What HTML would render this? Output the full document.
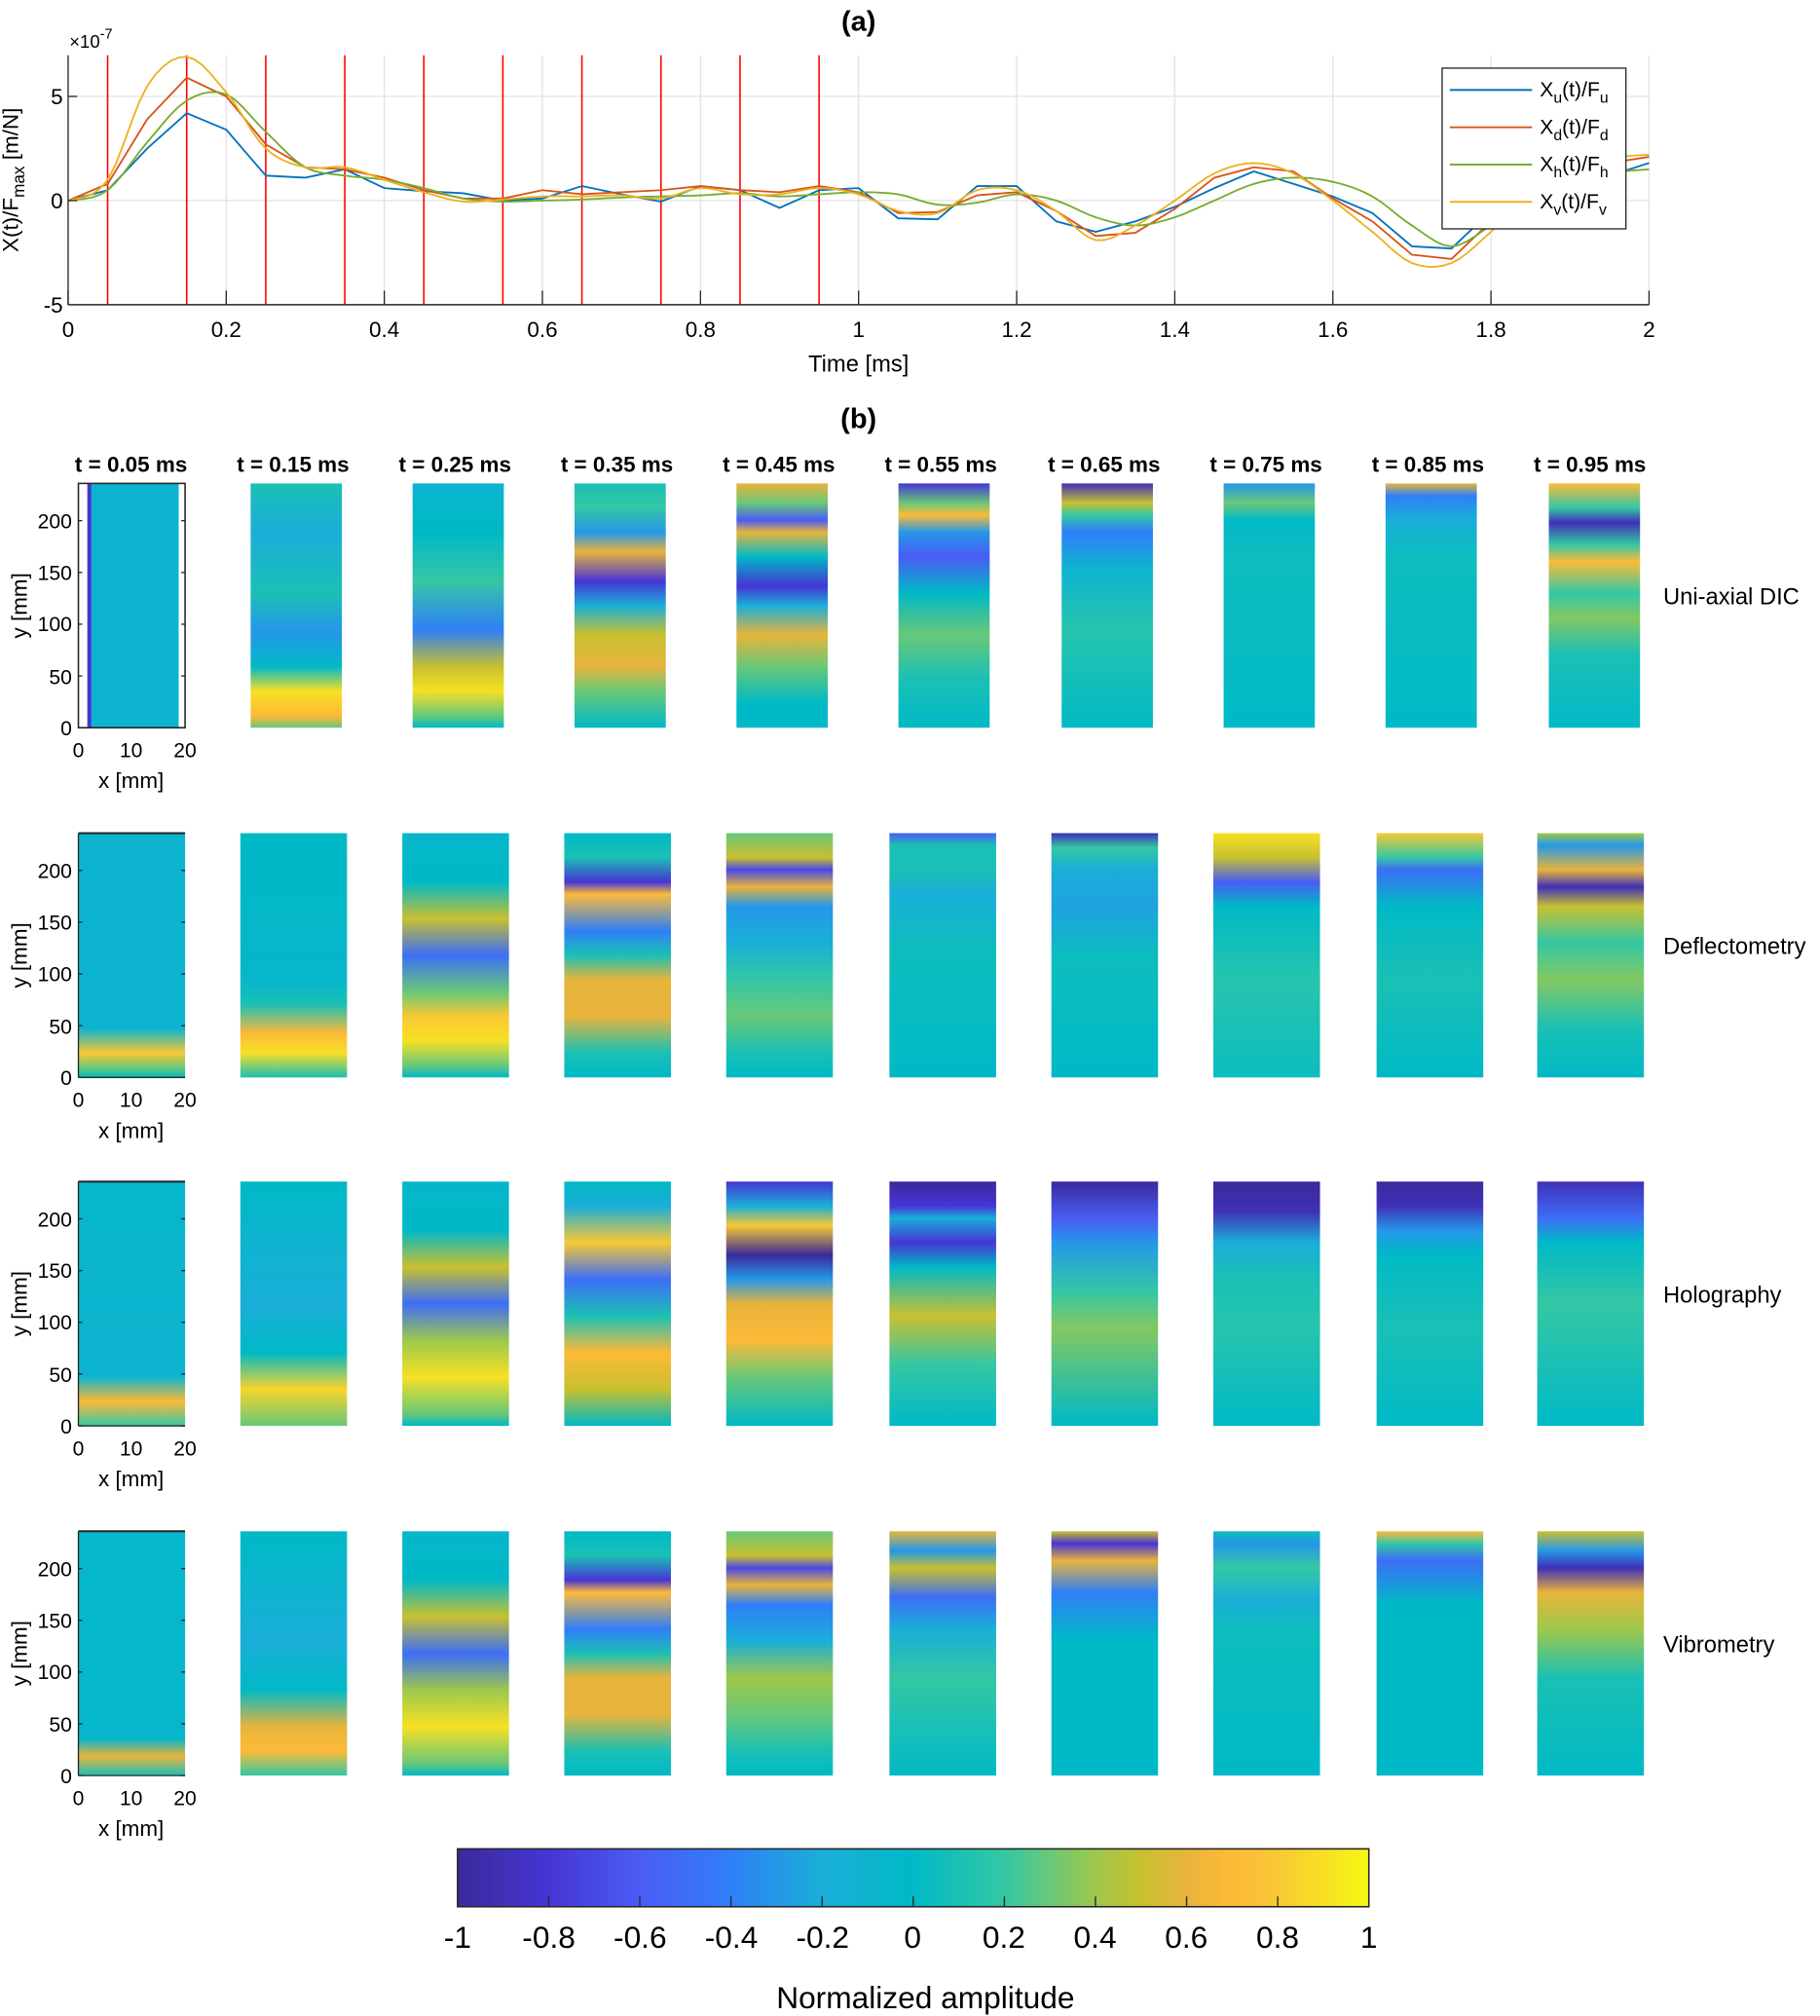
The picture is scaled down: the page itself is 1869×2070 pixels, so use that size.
<!DOCTYPE html>
<html><head><meta charset="utf-8">
<style>html,body{margin:0;padding:0;background:#fff}svg{display:block}text{font-family:"Liberation Sans",sans-serif}</style>
</head><body>
<svg id="s" width="1869" height="2070" viewBox="0 0 1416 1568" preserveAspectRatio="none" xmlns="http://www.w3.org/2000/svg">
<defs id="defs"></defs>
<rect width="1416" height="1568" fill="#fff"/>
<text x="668" y="24" font-size="22" font-weight="bold" text-anchor="middle">(a)</text>
<text x="54" y="37" font-size="14">×10<tspan dy="-7" font-size="11">-7</tspan></text>
<g id="tg"></g>
<g font-size="17" text-anchor="middle">
<text x="53" y="262">0</text><text x="176" y="262">0.2</text><text x="299" y="262">0.4</text><text x="422" y="262">0.6</text><text x="545" y="262">0.8</text><text x="668" y="262">1</text><text x="791" y="262">1.2</text><text x="914" y="262">1.4</text><text x="1037" y="262">1.6</text><text x="1160" y="262">1.8</text><text x="1283" y="262">2</text>
<text x="668" y="289" font-size="18">Time [ms]</text>
</g>
<g font-size="17" text-anchor="end"><text x="49" y="81">5</text><text x="49" y="162">0</text><text x="49" y="243">-5</text></g>
<text transform="translate(14,140) rotate(-90)" font-size="17" text-anchor="middle">X(t)/F<tspan dy="5" font-size="13">max</tspan><tspan dy="-5"> [m/N]</tspan></text>
<g id="leg">
<rect x="1122" y="53" width="143" height="125" fill="#fff" stroke="#262626" stroke-width="1"/>
<line x1="1128" y1="70" x2="1192" y2="70" stroke="#0072bd" stroke-width="1.5"/>
<line x1="1128" y1="99" x2="1192" y2="99" stroke="#d95319" stroke-width="1.5"/>
<line x1="1128" y1="128" x2="1192" y2="128" stroke="#77ac30" stroke-width="1.5"/>
<line x1="1128" y1="157" x2="1192" y2="157" stroke="#edb120" stroke-width="1.5"/>
<g font-size="16"><text x="1198" y="75">X<tspan dy="5" font-size="12">u</tspan><tspan dy="-5">(t)/F</tspan><tspan dy="5" font-size="12">u</tspan></text>
<text x="1198" y="104">X<tspan dy="5" font-size="12">d</tspan><tspan dy="-5">(t)/F</tspan><tspan dy="5" font-size="12">d</tspan></text>
<text x="1198" y="133">X<tspan dy="5" font-size="12">h</tspan><tspan dy="-5">(t)/F</tspan><tspan dy="5" font-size="12">h</tspan></text>
<text x="1198" y="162">X<tspan dy="5" font-size="12">v</tspan><tspan dy="-5">(t)/F</tspan><tspan dy="5" font-size="12">v</tspan></text></g>
</g>
<text x="668" y="333" font-size="22" font-weight="bold" text-anchor="middle">(b)</text>
<g font-size="17" font-weight="bold" text-anchor="middle">
<text x="102" y="367">t = 0.05 ms</text><text x="228" y="367">t = 0.15 ms</text><text x="354" y="367">t = 0.25 ms</text><text x="480" y="367">t = 0.35 ms</text><text x="606" y="367">t = 0.45 ms</text><text x="732" y="367">t = 0.55 ms</text><text x="859" y="367">t = 0.65 ms</text><text x="985" y="367">t = 0.75 ms</text><text x="1111" y="367">t = 0.85 ms</text><text x="1237" y="367">t = 0.95 ms</text>
</g>
<g font-size="18"><text x="1294" y="470">Uni-axial DIC</text><text x="1294" y="742">Deflectometry</text><text x="1294" y="1013">Holography</text><text x="1294" y="1285">Vibrometry</text></g>
<g id="maps"></g>
<g font-size="16" text-anchor="end">
<text x="56" y="572">0</text><text x="56" y="532">50</text><text x="56" y="491">100</text><text x="56" y="451">150</text><text x="56" y="411">200</text>
<text x="56" y="844">0</text><text x="56" y="804">50</text><text x="56" y="763">100</text><text x="56" y="723">150</text><text x="56" y="683">200</text>
<text x="56" y="1115">0</text><text x="56" y="1075">50</text><text x="56" y="1034">100</text><text x="56" y="994">150</text><text x="56" y="954">200</text>
<text x="56" y="1387">0</text><text x="56" y="1347">50</text><text x="56" y="1306">100</text><text x="56" y="1266">150</text><text x="56" y="1226">200</text>
</g>
<g font-size="16" text-anchor="middle">
<text x="61" y="589">0</text><text x="102" y="589">10</text><text x="144" y="589">20</text><text x="102" y="613" font-size="17">x [mm]</text>
<text x="61" y="861">0</text><text x="102" y="861">10</text><text x="144" y="861">20</text><text x="102" y="885" font-size="17">x [mm]</text>
<text x="61" y="1132">0</text><text x="102" y="1132">10</text><text x="144" y="1132">20</text><text x="102" y="1156" font-size="17">x [mm]</text>
<text x="61" y="1404">0</text><text x="102" y="1404">10</text><text x="144" y="1404">20</text><text x="102" y="1428" font-size="17">x [mm]</text>
<text transform="translate(21,471) rotate(-90)" font-size="17">y [mm]</text>
<text transform="translate(21,743) rotate(-90)" font-size="17">y [mm]</text>
<text transform="translate(21,1014) rotate(-90)" font-size="17">y [mm]</text>
<text transform="translate(21,1286) rotate(-90)" font-size="17">y [mm]</text>
</g>
<rect id="cbr" x="356" y="1438" width="709" height="45" fill="#0bb" stroke="#262626" stroke-width="1.2"/>
<g id="cbt"></g>
<g font-size="24" text-anchor="middle">
<text x="356" y="1515">-1</text><text x="427" y="1515">-0.8</text><text x="498" y="1515">-0.6</text><text x="569" y="1515">-0.4</text><text x="640" y="1515">-0.2</text><text x="710" y="1515">0</text><text x="781" y="1515">0.2</text><text x="852" y="1515">0.4</text><text x="923" y="1515">0.6</text><text x="994" y="1515">0.8</text><text x="1065" y="1515">1</text>
<text x="720" y="1562">Normalized amplitude</text>
</g>
</svg>
<script>
(function(){
var NS="http://www.w3.org/2000/svg";
function el(t,a,p){var e=document.createElementNS(NS,t);for(var k in a)e.setAttribute(k,a[k]);p.appendChild(e);return e;}
var C=[[-1,[58,42,154]],[-0.8,[70,53,212]],[-0.6,[74,92,245]],[-0.4,[47,127,247]],[-0.2,[26,174,216]],[0,[0,185,198]],[0.2,[52,199,164]],[0.4,[158,200,76]],[0.5,[200,192,48]],[0.6,[232,180,60]],[0.7,[253,186,56]],[0.8,[248,200,52]],[1,[246,248,20]]];
function col(v){v=Math.max(-1,Math.min(1,v));for(var i=0;i<C.length-1;i++){if(v<=C[i+1][0]){var f=(v-C[i][0])/(C[i+1][0]-C[i][0]);var a=C[i][1],b=C[i+1][1];return 'rgb('+[0,1,2].map(function(j){return Math.round(a[j]+(b[j]-a[j])*f)}).join(',')+')';}}return 'rgb(246,248,20)';}
var defs=document.getElementById('defs');var gid=0;
function grad(stops,horiz){var id='g'+(gid++);var g=el('linearGradient',{id:id,x1:0,y1:0,x2:horiz?1:0,y2:horiz?0:1},defs);stops.forEach(function(s){el('stop',{offset:s[0],'stop-color':col(s[1])},g);});return id;}
var cs=[];for(var i=0;i<=40;i++){cs.push([i/40,-1+i/20]);}
document.getElementById('cbr').setAttribute('fill','url(#'+grad(cs,true)+')');
var cbt=document.getElementById('cbt');for(var i=1;i<10;i++){var x=356+i*70.9;el('line',{x1:x,y1:1483,x2:x,y2:1475,stroke:'#262626','stroke-width':1},cbt);}
var tg=document.getElementById('tg');
function X(t){return 53+t*615;}function Y(v){return 156-v*16.2;}
for(var k=1;k<=10;k++){var t=k*0.2;el('line',{x1:X(t),y1:43,x2:X(t),y2:237,stroke:'#e3e3e3','stroke-width':1},tg);}
[5,0].forEach(function(v){el('line',{x1:53,y1:Y(v),x2:1283,y2:Y(v),stroke:'#e3e3e3','stroke-width':1},tg);});
for(var k=0;k<10;k++){var tx=X(0.05+k*0.1);el('line',{x1:tx,y1:43,x2:tx,y2:237,stroke:'#ff0000','stroke-width':1.2},tg);}
var U=[0,0.5,2.5,4.2,3.4,1.2,1.1,1.5,0.6,0.45,0.35,0,0.1,0.7,0.3,-0.05,0.7,0.5,-0.35,0.5,0.6,-0.85,-0.9,0.7,0.7,-1.0,-1.5,-1.0,-0.3,0.6,1.4,0.8,0.2,-0.6,-2.2,-2.3,-0.5,0.5,1.0,1.2,1.8];
var D=[0,0.8,3.9,5.9,5.0,2.7,1.6,1.5,1.1,0.5,0.1,0.1,0.5,0.3,0.4,0.5,0.7,0.5,0.4,0.7,0.4,-0.6,-0.55,0.25,0.4,-0.5,-1.7,-1.55,-0.4,1.1,1.6,1.4,0.1,-1.0,-2.6,-2.8,-1.0,0.5,1.2,1.8,2.1];
var H=[0,0.5,2.8,4.8,5.1,3.3,1.6,1.2,1.0,0.6,0.1,-0.05,0.0,0.05,0.15,0.2,0.25,0.35,0.2,0.3,0.4,0.3,-0.2,-0.1,0.3,0.0,-0.8,-1.2,-0.8,0.0,0.8,1.1,0.9,0.2,-1.2,-2.2,-1.2,0.0,0.8,1.3,1.5];
var V=[0,1.0,5.5,6.9,5.2,2.5,1.6,1.6,1.0,0.4,-0.05,0.05,0.2,0.2,0.25,0.1,0.6,0.3,0.3,0.6,0.3,-0.5,-0.6,0.5,0.5,-0.5,-1.9,-1.2,0.0,1.3,1.8,1.3,0.0,-1.5,-3.0,-3.0,-1.5,0.3,1.3,2.0,2.2];
function smooth(a){var o=[];for(var i=0;i<a.length-1;i++){var p0=a[Math.max(0,i-1)],p1=a[i],p2=a[i+1],p3=a[Math.min(a.length-1,i+2)];for(var s=0;s<5;s++){var u=s/5;o.push([(i+u)*0.05,0.5*((2*p1)+(-p0+p2)*u+(2*p0-5*p1+4*p2-p3)*u*u+(-p0+3*p1-3*p2+p3)*u*u*u)]);}}o.push([2,a[a.length-1]]);return o;}
function raw(a){return a.map(function(v,i){return [i*0.05,v];});}
[[raw(U),'#0072bd'],[raw(D),'#d95319'],[smooth(H),'#77ac30'],[smooth(V),'#edb120']].forEach(function(s){el('polyline',{points:s[0].map(function(p){return X(p[0]).toFixed(1)+','+Y(Math.min(6.95,p[1])).toFixed(1)}).join(' '),fill:'none',stroke:s[1],'stroke-width':1.4},tg);});
el('line',{x1:53,y1:43,x2:53,y2:237,stroke:'#262626','stroke-width':1},tg);
el('line',{x1:53,y1:237,x2:1283,y2:237,stroke:'#262626','stroke-width':1.2},tg);
for(var k=0;k<=10;k++){var t=k*0.2;el('line',{x1:X(t),y1:237,x2:X(t),y2:226,stroke:'#262626','stroke-width':1},tg);}
[5,0].forEach(function(v){el('line',{x1:53,y1:Y(v),x2:60,y2:Y(v),stroke:'#262626','stroke-width':1},tg);});
var P=[
[[[0,-0.1],[1,-0.1]],
[[0,0.1],[0.2,-0.2],[0.45,0.1],[0.6,-0.3],[0.75,0.0],[0.85,0.9],[0.95,0.7],[1,0.3]],
[[0,-0.1],[0.2,0],[0.4,0.2],[0.6,-0.4],[0.75,0.5],[0.85,0.9],[0.95,0.3],[1,0]],
[[0,0.1],[0.1,0.2],[0.2,-0.3],[0.28,0.6],[0.4,-0.8],[0.5,-0.2],[0.62,0.5],[0.75,0.6],[0.85,0.3],[1,0]],
[[0,0.6],[0.08,0.3],[0.15,-0.6],[0.2,0.6],[0.3,0],[0.42,-0.8],[0.5,-0.2],[0.62,0.6],[0.75,0.3],[0.9,0],[1,0]],
[[0,-0.8],[0.08,0.3],[0.13,0.7],[0.2,-0.3],[0.3,-0.6],[0.45,0],[0.62,0.3],[0.8,0.1],[1,0]],
[[0,-0.9],[0.08,0.5],[0.13,0.2],[0.2,-0.4],[0.35,-0.1],[0.6,0.15],[1,0]],
[[0,-0.3],[0.08,0.3],[0.15,0],[0.3,0.05],[1,0]],
[[0,0.6],[0.05,-0.4],[0.15,-0.2],[0.3,0.05],[1,0]],
[[0,0.7],[0.1,0.2],[0.16,-0.9],[0.25,0.2],[0.32,0.7],[0.45,0.2],[0.55,0.35],[0.7,0.1],[1,0]]],
[[[0,-0.1],[0.8,-0.1],[0.9,0.8],[0.96,0.3],[1,0]],
[[0,0],[0.6,-0.05],[0.7,0.1],[0.82,0.7],[0.9,0.9],[1,0.1]],
[[0,-0.05],[0.2,0],[0.35,0.5],[0.5,-0.5],[0.65,0.3],[0.75,0.8],[0.85,0.9],[0.95,0.3],[1,0]],
[[0,0],[0.1,0.1],[0.2,-0.8],[0.25,0.7],[0.4,-0.4],[0.5,0.1],[0.6,0.6],[0.75,0.6],[0.9,0.1],[1,0]],
[[0,0.3],[0.1,0.5],[0.15,-0.7],[0.22,0.6],[0.3,-0.3],[0.45,-0.2],[0.6,0.2],[0.75,0.3],[0.9,0.1],[1,0]],
[[0,-0.6],[0.05,0.1],[0.15,0.1],[0.25,-0.2],[0.45,0.05],[1,0]],
[[0,-0.9],[0.06,0.2],[0.15,-0.2],[0.3,-0.25],[0.5,0.05],[1,0]],
[[0,0.9],[0.1,0.5],[0.2,-0.6],[0.3,0],[0.6,0.15],[1,0.05]],
[[0,0.8],[0.1,0.2],[0.15,-0.5],[0.3,0],[0.6,0.1],[1,0]],
[[0,0.4],[0.05,-0.3],[0.15,0.6],[0.22,-0.9],[0.3,0.5],[0.45,0.2],[0.6,0.35],[0.8,0.1],[1,0]]],
[[[0,-0.05],[0.7,-0.1],[0.8,-0.1],[0.9,0.7],[1,0.2]],
[[0,0],[0.5,-0.2],[0.7,0],[0.85,0.85],[1,0.3]],
[[0,-0.05],[0.2,0],[0.35,0.5],[0.5,-0.5],[0.65,0.4],[0.8,0.9],[0.95,0.3],[1,0]],
[[0,0],[0.1,-0.2],[0.25,0.8],[0.4,-0.5],[0.55,0.1],[0.7,0.7],[0.85,0.5],[1,0]],
[[0,-0.8],[0.1,-0.2],[0.18,0.8],[0.3,-1],[0.4,-0.3],[0.5,0.6],[0.65,0.7],[0.8,0.3],[1,0]],
[[0,-1],[0.1,-0.8],[0.15,-0.2],[0.25,-0.8],[0.35,0],[0.55,0.5],[0.75,0.2],[1,0]],
[[0,-1],[0.15,-0.6],[0.25,-0.3],[0.45,0.2],[0.6,0.35],[1,0]],
[[0,-1],[0.12,-0.9],[0.25,-0.2],[0.4,0.1],[0.6,0.15],[1,0]],
[[0,-1],[0.1,-0.9],[0.2,-0.3],[0.3,0],[0.6,0.1],[1,0]],
[[0,-0.9],[0.15,-0.5],[0.25,0],[0.5,0.2],[1,0]]],
[[[0,-0.05],[0.85,-0.05],[0.92,0.6],[1,0.1]],
[[0,0],[0.45,-0.2],[0.65,0],[0.8,0.6],[0.9,0.7],[1,0.2]],
[[0,-0.05],[0.2,0],[0.35,0.5],[0.5,-0.5],[0.65,0.4],[0.8,0.9],[0.95,0.3],[1,0]],
[[0,0],[0.1,0.1],[0.2,-0.8],[0.25,0.7],[0.4,-0.4],[0.5,0.1],[0.6,0.6],[0.75,0.6],[0.9,0.1],[1,0]],
[[0,0.3],[0.1,0.5],[0.15,-0.7],[0.22,0.6],[0.3,-0.4],[0.45,-0.2],[0.6,0.4],[0.75,0.3],[0.9,0.1],[1,0]],
[[0,0.6],[0.08,-0.3],[0.15,0.5],[0.27,-0.5],[0.4,-0.2],[0.6,0.2],[1,0]],
[[0,0.5],[0.05,-0.8],[0.12,0.6],[0.25,-0.4],[0.45,0],[1,0]],
[[0,0.05],[0.05,-0.3],[0.15,0.2],[0.28,-0.2],[0.4,0.05],[1,0]],
[[0,0.7],[0.05,0.2],[0.12,-0.5],[0.3,0],[1,0]],
[[0,0.5],[0.08,-0.3],[0.15,-0.9],[0.25,0.6],[0.4,0.4],[0.6,0.1],[1,0]]]];
var maps=document.getElementById('maps');
var L1=[68,195,321,447,573,699,826,952,1078,1205],L2=[61,187,313,439,565,692,818,944,1071,1196],T=[376,648,919,1191];
for(var r=0;r<4;r++){for(var c=0;c<10;c++){var x=r==0?L1[c]:L2[c],w=r==0?71:83;var id=grad(P[r][c],false);el('rect',{x:x,y:T[r],width:w,height:190,fill:'url(#'+id+')'},maps);}
 var B=T[r]+190;
 if(r==0){el('rect',{x:68,y:376,width:3,height:190,fill:'#4635d4'},maps);el('rect',{x:61,y:376,width:83,height:190,fill:'none',stroke:'#262626','stroke-width':1.2},maps);}
 else{el('line',{x1:61,y1:T[r],x2:144,y2:T[r],stroke:'#262626','stroke-width':1.5},maps);el('line',{x1:61,y1:T[r],x2:61,y2:B,stroke:'#262626','stroke-width':1},maps);el('line',{x1:61,y1:B,x2:144,y2:B,stroke:'#262626','stroke-width':1},maps);}
 for(var v=0;v<=200;v+=50){var yy=B-v*190/236;el('line',{x1:61,y1:yy,x2:64,y2:yy,stroke:'#262626'},maps);el('line',{x1:141,y1:yy,x2:144,y2:yy,stroke:'#262626'},maps);}
}
})();
</script>
</body></html>
